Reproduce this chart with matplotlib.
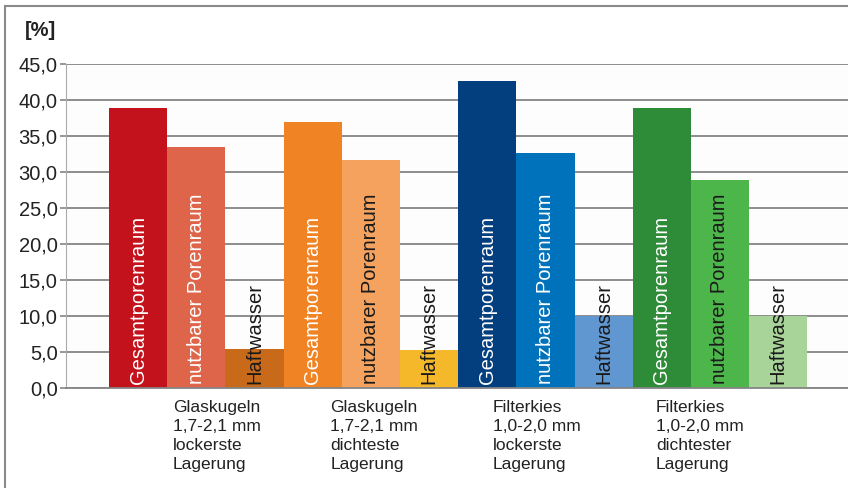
import matplotlib.pyplot as plt
from matplotlib.patches import Rectangle

plt.rcParams["font.family"] = ["Liberation Sans", "DejaVu Sans"]

groups = ["Glaskugeln\n1,7-2,1 mm\nlockerste\nLagerung",
          "Glaskugeln\n1,7-2,1 mm\ndichteste\nLagerung",
          "Filterkies\n1,0-2,0 mm\nlockerste\nLagerung",
          "Filterkies\n1,0-2,0 mm\ndichtester\nLagerung"]
series = ["Gesamtporenraum", "nutzbarer Porenraum", "Haftwasser"]
gesamt = [38.9, 36.9, 42.7, 38.9]
nutzbar = [33.5, 31.7, 32.7, 28.9]
haft = [5.4, 5.3, 10.0, 10.0]
yticks = [0, 5, 10, 15, 20, 25, 30, 35, 40, 45]

colors = [["#c4121c", "#de654a", "#c96a1a"],
          ["#f08424", "#f5a25e", "#f5b82a"],
          ["#033f7f", "#0072bb", "#6197d1"],
          ["#2e8b37", "#4db64a", "#a8d49a"]]
text_colors = [["white", "white", "#1a1a1a"],
               ["white", "#1a1a1a", "#1a1a1a"],
               ["white", "white", "#1a1a1a"],
               ["white", "#1a1a1a", "#1a1a1a"]]

fig = plt.figure(figsize=(8.48, 4.88), dpi=100)
fig.patches.append(Rectangle((4.5 / 848, -0.01), 1.0, 1 - 6.5 / 488 + 0.01,
                             transform=fig.transFigure, fill=False,
                             edgecolor="#8a8a8a", linewidth=1.5))
ax = fig.add_axes([66 / 848, 100 / 488, 782 / 848, 324 / 488])
ax.set_facecolor("#fdfdfd")

for g in range(len(groups)):
    vals = [gesamt[g], nutzbar[g], haft[g]]
    for s in range(3):
        x = g * 3 + s
        ax.bar(x, vals[s], width=1.0, align="edge", color=colors[g][s], zorder=2)
        ax.text(x + 0.5, 0.6, series[s], rotation=90, ha="center", va="bottom",
                color=text_colors[g][s], fontsize=14.5, zorder=3)

label_x = [1.1, 3.8, 6.6, 9.4]
for g, lab in enumerate(groups):
    ax.text(label_x[g], -1.7, lab, ha="left", va="top", fontsize=12.5,
            color="#222222", linespacing=1.32, clip_on=False)

ax.set_xlim(-0.74, 12.7)
ax.set_ylim(0, 45)
ax.set_yticks(yticks)
ax.set_yticklabels([f"{v:.1f}".replace(".", ",") for v in yticks],
                   fontsize=14.5, color="#222222")
ax.set_xticks([])
ax.grid(axis="y", color="#858585", linewidth=1.3, zorder=1)
ax.tick_params(axis="y", length=4, color="#858585", width=1.2, pad=2)
for side in ["top", "right"]:
    ax.spines[side].set_visible(False)
ax.spines["left"].set_color("#aaaaaa")
ax.spines["bottom"].set_color("#858585")
ax.spines["bottom"].set_linewidth(1.3)

fig.text(25 / 848, 1 - 30 / 488, "[%]", fontsize=14.5, fontweight="bold",
         color="#222222", va="center", ha="left")

fig.savefig("out.png", dpi=100)
